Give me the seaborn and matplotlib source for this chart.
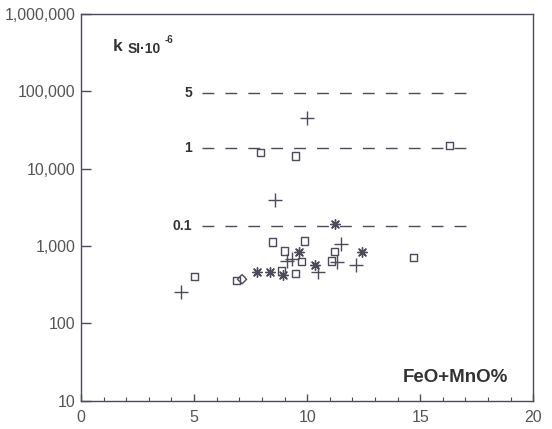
import matplotlib
matplotlib.use("Agg")
import matplotlib.pyplot as plt
import seaborn as sns
import pandas as pd
from matplotlib.ticker import FixedLocator, FuncFormatter, MultipleLocator, NullLocator

# FeO+MnO (%) against magnetic susceptibility k (SI x 10^-6), one list pair per rock group
square_feo = [5.03, 6.87, 8.48, 9.87, 8.98, 9.77, 11.19, 11.09, 8.85, 9.47, 7.92, 9.47, 16.3, 14.7]
square_k = [401, 360, 1127, 1161, 863, 627, 845, 640, 475, 441, 16100, 14600, 20200, 715]

cross_feo = [4.40, 8.58, 9.99, 11.5, 9.12, 9.34, 10.5, 11.31, 12.17]
cross_k = [258, 3940, 44800, 1062, 631, 680, 466, 627, 568]

star_feo = [7.77, 8.36, 8.95, 9.66, 10.35, 11.24, 12.42]
star_k = [455, 461, 422, 845, 568, 1909, 837]

diamond_feo = [7.12]
diamond_k = [372]

# susceptibility of rock with the given magnetite content (%)
level_labels = ["5", "1", "0.1"]
level_k = [95000, 18500, 1815]
level_span = [5.35, 17.2]

x_ticks = [0, 5, 10, 15, 20]
y_ticks = [10, 100, 1000, 10000, 100000, 1000000]

sns.set_theme(style="white")
plt.rcParams["font.family"] = ["Liberation Sans", "DejaVu Sans"]

ink = "#4b4b5c"
text_grey = "#555555"
dark = "#333333"

fig = plt.figure(figsize=(5.52, 4.29), dpi=100)
ax = fig.add_axes([81 / 552, 28.3 / 429, 452.3 / 552, 386.7 / 429])

# magnetite reference levels
for lab, kval in zip(level_labels, level_k):
    lvl = pd.DataFrame({"x": level_span, "y": [kval, kval]})
    sns.lineplot(data=lvl, x="x", y="y", ax=ax, color=ink, linewidth=1.0,
                 dashes=False, legend=False)
    ax.lines[-1].set_dashes((8.5, 8))
    ax.text(4.91, kval, lab, ha="right", va="center", fontsize=10,
            fontweight="bold", color=dark)

sq = pd.DataFrame({"feo": square_feo, "k": square_k})
cr = pd.DataFrame({"feo": cross_feo, "k": cross_k})
st = pd.DataFrame({"feo": star_feo, "k": star_k})
di = pd.DataFrame({"feo": diamond_feo, "k": diamond_k})

sns.scatterplot(data=sq, x="feo", y="k", ax=ax, marker="s", s=26,
                facecolor="none", edgecolor=ink, linewidth=1.0, legend=False, zorder=3)
sns.scatterplot(data=cr, x="feo", y="k", ax=ax, marker="+", s=90,
                color=ink, linewidth=1.0, legend=False, zorder=3)
sns.scatterplot(data=st, x="feo", y="k", ax=ax, marker=(8, 2, 0), s=48,
                color=ink, linewidth=1.0, legend=False, zorder=3)
sns.scatterplot(data=di, x="feo", y="k", ax=ax, marker="D", s=22,
                facecolor="none", edgecolor=ink, linewidth=1.0, legend=False, zorder=3)

ax.set_yscale("log")
ax.set_xlim(0, 20)
ax.set_ylim(10, 1000000)
ax.set_xlabel("")
ax.set_ylabel("")

ax.xaxis.set_major_locator(FixedLocator(x_ticks))
ax.xaxis.set_minor_locator(MultipleLocator(1))
ax.yaxis.set_major_locator(FixedLocator(y_ticks))
ax.yaxis.set_minor_locator(NullLocator())
ax.yaxis.set_major_formatter(FuncFormatter(lambda v, p: f"{int(round(v)):,}"))
ax.xaxis.set_major_formatter(FuncFormatter(lambda v, p: f"{int(round(v))}"))

ax.tick_params(axis="x", which="major", direction="in", length=5, width=1,
               color=ink, labelsize=11.5, labelcolor=text_grey, pad=7, bottom=True)
ax.tick_params(axis="x", which="minor", direction="in", length=3, width=0.8,
               color=ink, bottom=True)
ax.tick_params(axis="y", which="major", direction="in", length=7, width=1,
               color=ink, labelsize=11.5, labelcolor=text_grey, pad=4, left=True)

for sp in ax.spines.values():
    sp.set_visible(True)
    sp.set_color(ink)
    sp.set_linewidth(1.0)

ax.text(0.071, 0.915, "k", transform=ax.transAxes, fontsize=12.5,
        fontweight="bold", color=dark, va="center", ha="left")
ax.text(0.103, 0.909, "SI\u00b710", transform=ax.transAxes, fontsize=10,
        fontweight="bold", color=dark, va="center", ha="left")
ax.text(0.185, 0.932, "-6", transform=ax.transAxes, fontsize=7,
        fontweight="bold", color=dark, va="center", ha="left")

ax.text(0.944, 0.059, "FeO+MnO%", transform=ax.transAxes, fontsize=13.5,
        fontweight="bold", color=dark, va="center", ha="right")

fig.savefig("out.png", dpi=100, facecolor="white")
